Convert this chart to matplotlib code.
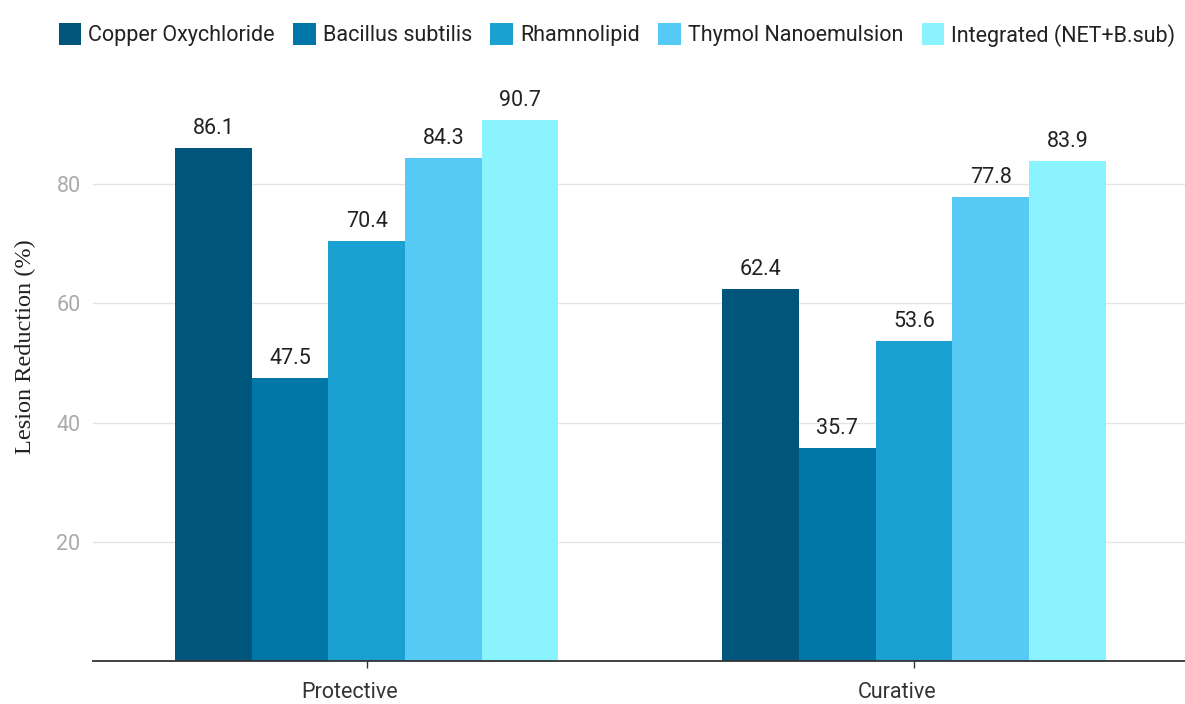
import matplotlib
matplotlib.use("Agg")
import matplotlib.pyplot as plt
import numpy as np

# Lesion reduction (%) by treatment and application mode
groups = ["Protective", "Curative"]
treatments = ["Copper Oxychloride", "Bacillus subtilis", "Rhamnolipid",
              "Thymol Nanoemulsion", "Integrated (NET+B.sub)"]
copper = [86.1, 62.4]
bacillus = [47.5, 35.7]
rhamnolipid = [70.4, 53.6]
thymol = [84.3, 77.8]
integrated = [90.7, 83.9]
series = [copper, bacillus, rhamnolipid, thymol, integrated]
colors = ["#00557c", "#0077a6", "#1ba1d1", "#56c9f4", "#8af3fd"]
yticks = [20, 40, 60, 80]

plt.rcParams["font.family"] = ["Roboto", "DejaVu Sans"]

fig = plt.figure(figsize=(11.85, 7.04), dpi=100)
ax = fig.add_axes([93 / 1185, 1 - 661 / 704, 1 - 93 / 1185, (661 - 94) / 704])

x = np.arange(len(groups))
width = 0.14
offsets = (np.arange(len(series)) - 2) * width
handles = []
for vals, off, col, name in zip(series, offsets, colors, treatments):
    bars = ax.bar(x + off, vals, width, color=col, label=name, linewidth=0)
    handles.append(bars)
    for xi, v in zip(x + off, vals):
        ax.annotate(f"{v}", (xi, v), xytext=(0, 6.5), textcoords="offset points",
                    ha="center", va="bottom", fontsize=15.5, color="#222222")

ax.set_xlim(-0.5, 1.495)
ax.set_ylim(0, 95.1)
# tick marks at group centres; category names drawn a little to the left
ax.set_xticks(x, labels=["", ""])
ax.set_xticks(x - 0.031, labels=groups, minor=True)
ax.tick_params(axis="x", which="major", length=5, width=1, color="#333333")
ax.tick_params(axis="x", which="minor", length=0, pad=15, labelsize=15.5,
               labelcolor="#333333")
ax.set_yticks(yticks)
ax.set_yticklabels([str(t) for t in yticks], fontsize=15.5, color="#aaaaaa")
ax.tick_params(axis="y", length=0, pad=9)
ax.grid(axis="y", color="#e4e4e4", linewidth=1)
ax.set_axisbelow(True)
for side in ["top", "right", "left"]:
    ax.spines[side].set_visible(False)
ax.spines["bottom"].set_color("#333333")
ax.spines["bottom"].set_linewidth(1.3)

ax.set_ylabel("Lesion Reduction (%)", family=["Liberation Serif", "DejaVu Serif"],
              fontsize=17.5, color="#222222")
ax.yaxis.set_label_coords((25 - 93) / 1092, (661 - 347) / 567)
ax.yaxis.label.set_va("center")

fig.legend(handles=handles, labels=treatments, loc="center", ncol=5,
           bbox_to_anchor=(617 / 1185, 1 - 35 / 704), frameon=False, fontsize=15.5,
           handlelength=1.05, handleheight=1.15, handletextpad=0.33,
           columnspacing=0.85, labelcolor="#222222")

fig.savefig("out.png", dpi=100)
